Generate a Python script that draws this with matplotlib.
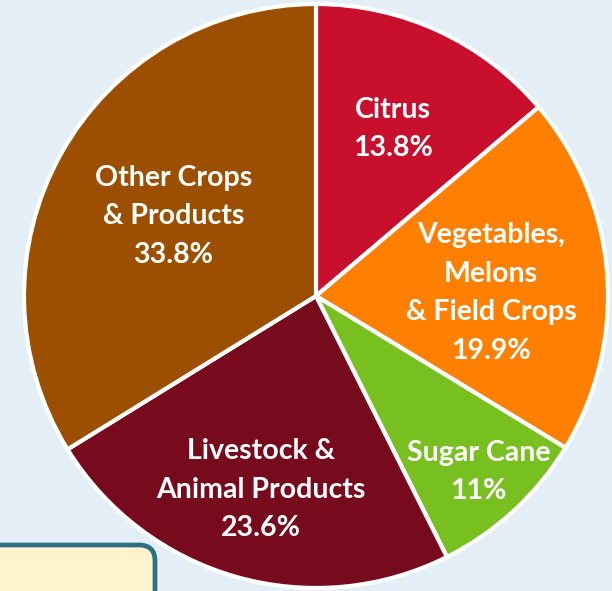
import matplotlib.pyplot as plt
from matplotlib.patches import FancyBboxPatch
import numpy as np

# valores das fatias e rotulos
categorias = ["Citrus", "Vegetables,\nMelons\n& Field Crops", "Sugar Cane",
              "Livestock &\nAnimal Products", "Other Crops\n& Products"]
valores = [13.8, 19.9, 8.9, 23.6, 33.8]
rotulos_pct = ["13.8%", "19.9%", "11%", "23.6%", "33.8%"]
cores = ["#c8102e", "#ff8000", "#78c020", "#780a1e", "#9c4f00"]
# posicao do rotulo: fracao do raio e desvio de angulo (graus)
dist_rotulo = [0.63, 0.60, 0.82, 0.69, 0.56]
desvio_ang = [0, -3.5, 0, 0, 0]

fig = plt.figure(figsize=(6.12, 5.91), dpi=100)
fig.patch.set_facecolor("#e3eef6")
ax = fig.add_axes([0, 0, 1, 1])
ax.set_facecolor("#e3eef6")

cx, cy, r = 316, 295, 292
wedges, _ = ax.pie(valores, colors=cores, startangle=90, counterclock=False,
                   center=(cx, cy), radius=r, frame=True,
                   wedgeprops=dict(edgecolor="white", linewidth=3))
ax.set_xlim(0, 612)
ax.set_ylim(0, 591)
ax.set_aspect("equal")
ax.axis("off")

for w, cat, pct, d, da in zip(wedges, categorias, rotulos_pct, dist_rotulo, desvio_ang):
    ang = np.deg2rad((w.theta1 + w.theta2) / 2 + da)
    x = cx + d * r * np.cos(ang)
    y = cy + d * r * np.sin(ang)
    ax.text(x, y, cat + "\n" + pct, ha="center", va="center", color="white",
            fontsize=20.5, fontweight="bold", family="Lato", linespacing=1.6)

# caixa cortada no canto inferior esquerdo
caixa = FancyBboxPatch((-40, -40), 195, 86, boxstyle="round,pad=0,rounding_size=16",
                       facecolor="#fff3cc", edgecolor="#2e6e82", linewidth=3.4)
ax.add_patch(caixa)

fig.savefig("out.png", dpi=100, facecolor=fig.get_facecolor())
